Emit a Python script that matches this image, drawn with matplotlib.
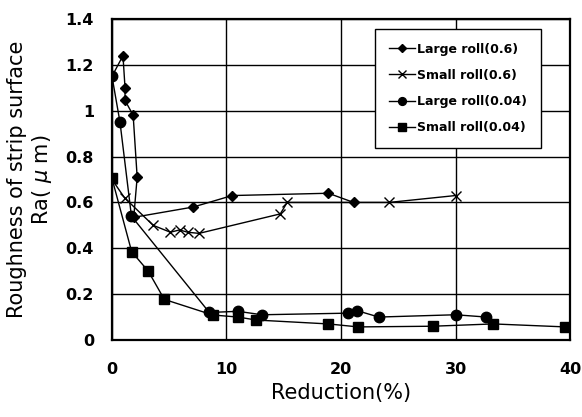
import matplotlib
matplotlib.use("Agg")
import matplotlib.pyplot as plt

plt.rcParams['font.family'] = ['DejaVu Sans']

# Data
large06_x = [0, 0.96, 1.14, 1.14, 1.85, 2.2, 1.9, 7.1, 10.5, 18.9, 21.1]
large06_y = [1.15, 1.24, 1.10, 1.045, 0.98, 0.71, 0.535, 0.58, 0.63, 0.64, 0.60]

small06_x = [0, 1.1, 3.6, 5.1, 5.9, 6.6, 7.6, 14.7, 15.3, 24.2, 30.0]
small06_y = [0.70, 0.62, 0.50, 0.47, 0.48, 0.47, 0.465, 0.55, 0.60, 0.60, 0.63]

large004_x = [0, 0.7, 1.7, 8.5, 11.0, 13.1, 20.6, 21.4, 23.3, 30.0, 32.7]
large004_y = [1.15, 0.95, 0.54, 0.12, 0.125, 0.11, 0.117, 0.128, 0.10, 0.11, 0.10]

small004_x = [0, 1.72, 3.17, 4.57, 8.8, 11.0, 12.6, 18.9, 21.5, 28.0, 33.3, 39.6]
small004_y = [0.705, 0.385, 0.30, 0.177, 0.109, 0.10, 0.087, 0.07, 0.057, 0.06, 0.07, 0.057]

x_ticks = [0, 10, 20, 30, 40]
y_ticks = [0, 0.2, 0.4, 0.6, 0.8, 1.0, 1.2, 1.4]
y_labels = ['0', '0.2', '0.4', '0.6', '0.8', '1', '1.2', '1.4']

fig = plt.figure(figsize=(5.82, 4.17), dpi=100)
ax = fig.add_axes([0.1924, 0.1847, 0.7870, 0.7697])

ax.plot(large06_x, large06_y, color='black', lw=1.0, marker='D', ms=5.5,
        mfc='black', mec='black', label='Large roll(0.6)', zorder=3)
ax.plot(small06_x, small06_y, color='black', lw=1.0, marker='x', ms=7,
        mew=1.0, label='Small roll(0.6)', zorder=3)
ax.plot(large004_x, large004_y, color='black', lw=1.0, marker='o', ms=7.5,
        mfc='black', mec='black', label='Large roll(0.04)', zorder=3)
ax.plot(small004_x, small004_y, color='black', lw=1.0, marker='s', ms=7,
        mfc='black', mec='black', label='Small roll(0.04)', zorder=3)

ax.set_xlim(0, 40)
ax.set_ylim(0, 1.4)
ax.set_xticks(x_ticks)
ax.set_yticks(y_ticks)
ax.set_yticklabels(y_labels)
ax.grid(True, color='black', lw=1.0)
ax.set_axisbelow(True)
for s in ax.spines.values():
    s.set_linewidth(1.6)
    s.set_color('black')
ax.tick_params(length=0, labelsize=11.5)
ax.tick_params(axis='x', pad=16)
ax.tick_params(axis='y', pad=13)
for t in ax.get_xticklabels() + ax.get_yticklabels():
    t.set_fontweight('bold')

ax.set_xlabel('Reduction(%)', fontsize=15, labelpad=4)
ax.set_ylabel('Roughness of strip surface\nRa( $\\mu$ m)', fontsize=15, labelpad=8)

leg = ax.legend(loc='upper left', bbox_to_anchor=(0.574, 0.969), borderaxespad=0,
                fontsize=9, frameon=True, fancybox=False, edgecolor='black',
                framealpha=1, handlelength=2.1, handletextpad=0.2,
                labelspacing=1.05, borderpad=1.1, markerscale=0.75)
leg.get_frame().set_linewidth(1.0)
for t in leg.get_texts():
    t.set_fontweight('bold')

fig.savefig('out.png', dpi=100)
